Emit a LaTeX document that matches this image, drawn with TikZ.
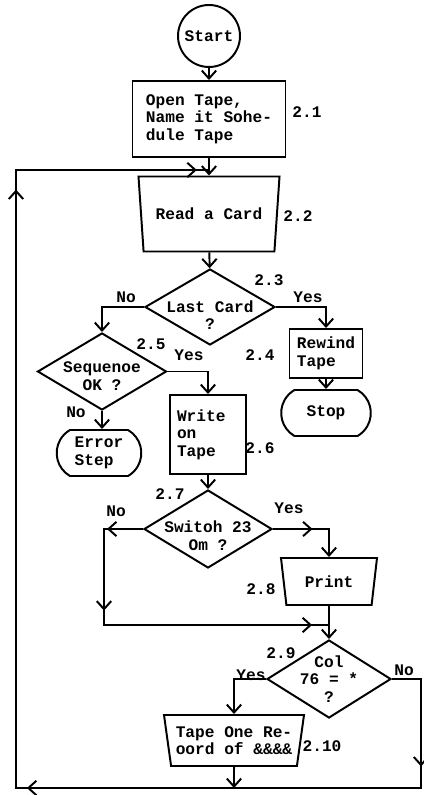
\documentclass[tikz,border=0pt]{standalone}
\usepackage{fontspec}
\setmainfont{Liberation Mono}
\usetikzlibrary{shapes.geometric,shapes.misc,arrows.meta,decorations.markings}

\begin{document}
\begin{tikzpicture}[x=0.25mm,y=-0.25mm,line width=1.4pt,
  font=\fontsize{11.5}{12.5}\selectfont\bfseries,
  >={Straight Barb[length=2mm,width=3.6mm]},
  flow/.style={draw,->},
  tip at/.style={postaction={decorate,decoration={markings,
      mark=at position #1 with {\arrow{>}}}}},
  procbox/.style={draw,rectangle,align=left},
  iobox/.style={draw,trapezium,trapezium stretches body,align=center,
      trapezium left angle=#1,trapezium right angle=#1},
  decision/.style={draw,diamond,inner sep=0pt},
  terminal/.style={draw,rounded rectangle,rounded rectangle arc length=120,align=left},
  numlbl/.style={inner sep=1pt}]
\useasboundingbox (0,0) rectangle (423,795);

\node[draw,circle,minimum size=15.5mm,inner sep=0pt] (start) at (209,36) {Start};
\node[procbox,minimum width=38.25mm,minimum height=19mm] (open) at (209,119)
  {Open Tape,\\Name it Sohe-\\dule Tape};
\node[iobox=103.5,minimum width=35.25mm,minimum height=18.75mm] (read) at (209,214) {Read a Card};
\node[decision,minimum width=32.5mm,minimum height=19mm,
  label={[align=center,yshift=-2mm]center:{Last Card\\?}}] (last) at (210,307) {};
\node[procbox,minimum width=18.25mm,minimum height=12.25mm] (rewind) at (326,353.5) {Rewind\\Tape};
\node[terminal,minimum width=24.75mm,minimum height=11.5mm] (stop) at (326,413) {Stop};
\node[decision,minimum width=32.25mm,minimum height=19.25mm,
  label={[align=center,yshift=-1.2mm]center:{Sequenoe\\OK ?}}] (seq) at (102,371.5) {};
\node[terminal,minimum width=23.5mm,minimum height=11.5mm] (error) at (99,453) {Error\\Step};
\node[procbox,text width=15.5mm,inner xsep=1.75mm,minimum height=19.75mm] (write) at (208,434.5)
  {Write\\on\\Tape};
\node[decision,minimum width=32mm,minimum height=19.5mm,
  label={[align=center,yshift=-1.7mm]center:{Switoh 23\\Om ?}}] (switch) at (208,529) {};
\node[iobox=104.3,minimum width=24mm,minimum height=11.75mm] (print) at (329,581.5) {Print};
\node[decision,minimum width=31mm,minimum height=19.5mm,
  label={[align=center]center:{Col\\76 = *\\?}}] (col) at (329,679) {};
\node[iobox=100.6,minimum width=35mm,minimum height=12.75mm] (tapeone) at (234,740.5)
  {Tape One Re-\\oord of \&\&\&\&};

\node[numlbl] (n21) at (307,112) {2.1};
\node[numlbl] (n22) at (298,216) {2.2};
\node[numlbl] (n23) at (269,280) {2.3};
\node[numlbl] (n24) at (260,355) {2.4};
\node[numlbl] (n25) at (151,344) {2.5};
\node[numlbl] (n26) at (260,448) {2.6};
\node[numlbl] (n27) at (170,494) {2.7};
\node[numlbl] (n28) at (261,589) {2.8};
\node[numlbl] (n29) at (281,653) {2.9};
\node[numlbl] (n210) at (322,746) {2.10};
\node[numlbl] (lastno) at (126,297) {No};
\node[numlbl] (lastyes) at (308,297) {Yes};
\node[numlbl] (seqyes) at (189,355) {Yes};
\node[numlbl] (seqno) at (76,412) {No};
\node[numlbl] (swno) at (116,511) {No};
\node[numlbl] (swyes) at (289,508) {Yes};
\node[numlbl] (colyes) at (251,675) {Yes};
\node[numlbl] (colno) at (404,670) {No};

\coordinate (swL) at (104,529);
\coordinate (swB) at (104,625);
\coordinate (merge) at (print.south |- swB);
\coordinate (cR) at (421,679);
\coordinate (cBR) at (421,788);
\coordinate (cBL) at (16,788);
\coordinate (cTL) at (16,170);
\coordinate (cJ) at (open.south |- cTL);

\draw[flow] (start) -- (open);
\draw[flow] (open) -- (read);
\draw[flow] (read) -- (last);
\draw[flow] (last.east) -| (rewind.north);
\draw[flow] (last.west) -| (seq.north);
\draw[flow] (rewind) -- (stop);
\draw[flow] (seq.east) -| (write.north);
\draw[flow] (seq.south) -- (seq.south |- error.north);
\draw[flow] (write) -- (switch);
\draw[flow,tip at=0.47] (switch.east) -| (print.north);
\draw[tip at=0.1,tip at=0.335,tip at=0.953] (switch.west) -- (swL) -- (swB) -- (merge);
\draw[flow] (print) -- (col);
\draw[flow] (col.west) -| (tapeone.north);
\draw[flow] (tapeone) -- (tapeone |- cBL);
\draw[tip at=0.086,tip at=0.393,tip at=0.843,tip at=0.991]
  (col.east) -- (cR) -- (cBR) -- (cBL) -- (cTL) -- (cJ);

\end{tikzpicture}
\end{document}
